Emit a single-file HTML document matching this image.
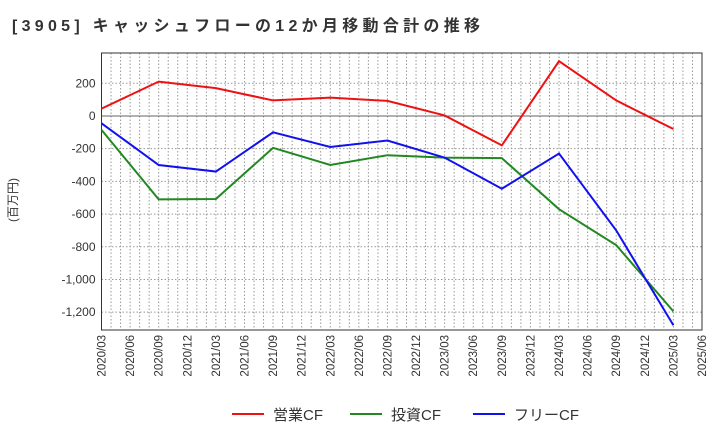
<!DOCTYPE html>
<html><head><meta charset="utf-8"><style>
body{margin:0;background:#fff;font-family:"Liberation Sans","Noto Sans CJK JP",sans-serif}
</style></head><body>
<svg id="c" width="720" height="440" xmlns="http://www.w3.org/2000/svg">
<text x="12" y="31" font-size="16" font-weight="bold" fill="#333" textLength="468" lengthAdjust="spacing" font-family="Liberation Sans,Noto Sans CJK JP,sans-serif">[3905]  キャッシュフローの12か月移動合計の推移</text>
<text transform="translate(17,200) rotate(-90)" font-size="12" fill="#333" text-anchor="middle" font-family="Liberation Sans,Noto Sans CJK JP,sans-serif">(百万円)</text>
<g id="grid"></g><g id="axes"></g><g id="series"></g>
<g id="legend"></g>
</svg>
<script>
const xLabels=["2020/03","2020/06","2020/09","2020/12","2021/03","2021/06","2021/09","2021/12","2022/03","2022/06","2022/09","2022/12","2023/03","2023/06","2023/09","2023/12","2024/03","2024/06","2024/09","2024/12","2025/03","2025/06"];
const yTicks=[200,0,-200,-400,-600,-800,-1000,-1200];
const yTickLabels=["200","0","-200","-400","-600","-800","-1,000","-1,200"];
const pointQuarters=[0,2,4,6,8,10,12,14,16,18,20];
const opCF=[45,210,170,95,112,92,3,-180,335,95,-80];
const invCF=[-85,-510,-508,-195,-300,-240,-255,-258,-570,-790,-1195];
const freeCF=[-45,-300,-340,-100,-190,-150,-255,-445,-230,-700,-1280];
const seriesNames=["営業CF","投資CF","フリーCF"];
const colors=["#ee1111","#228822","#1111ee"];
const L=101.5,R=702,T=53,B=330;
const yMin=-1309,yMax=385;
const ns="http://www.w3.org/2000/svg";
function X(q){return L+(R-L)*q/21;}
function Y(v){return T+(B-T)*(yMax-v)/(yMax-yMin);}
function mk(tag,attrs,parent){const e=document.createElementNS(ns,tag);for(const k in attrs)e.setAttribute(k,attrs[k]);document.getElementById(parent).appendChild(e);return e;}
for(let m=1;m<63;m++){const x=L+(R-L)*m/63;
const g=mk("line",{x1:x,x2:x,y1:T,y2:B,stroke:"#999","stroke-width":1,"stroke-dasharray":"1.5,2"},"grid");

}
yTicks.forEach((v,i)=>{const y=Y(v);
const g=mk("line",{x1:L,x2:R,y1:y,y2:y,stroke:v===0?"#666":"#999","stroke-width":1,"stroke-dasharray":v===0?"none":"1.5,2"},"grid");


const t=mk("text",{x:L-6,y:y+4,"text-anchor":"end","font-size":12,fill:"#333"},"axes");t.textContent=yTickLabels[i];

});
const fr=mk("rect",{x:L,y:T,width:R-L,height:B-T,fill:"none",stroke:"#333","stroke-width":1},"axes");


xLabels.forEach((s,i)=>{const x=X(i);
const t=mk("text",{transform:`translate(${x+4},${B+5}) rotate(-90)`,"text-anchor":"end","font-size":11.5,fill:"#333"},"axes");t.textContent=s;

});
[opCF,invCF,freeCF].forEach((d,si)=>{
const p=mk("polyline",{points:d.map((v,i)=>X(pointQuarters[i])+","+Y(v)).join(" "),fill:"none",stroke:colors[si],"stroke-width":2},"series");


const lx=[232,350,473][si];
const ll=mk("line",{x1:lx,x2:lx+32,y1:414,y2:414,stroke:colors[si],"stroke-width":2},"legend");


const lt=mk("text",{x:lx+41,y:420,"font-size":15,fill:"#333"},"legend");lt.textContent=seriesNames[si];

});
</script>
</body></html>
